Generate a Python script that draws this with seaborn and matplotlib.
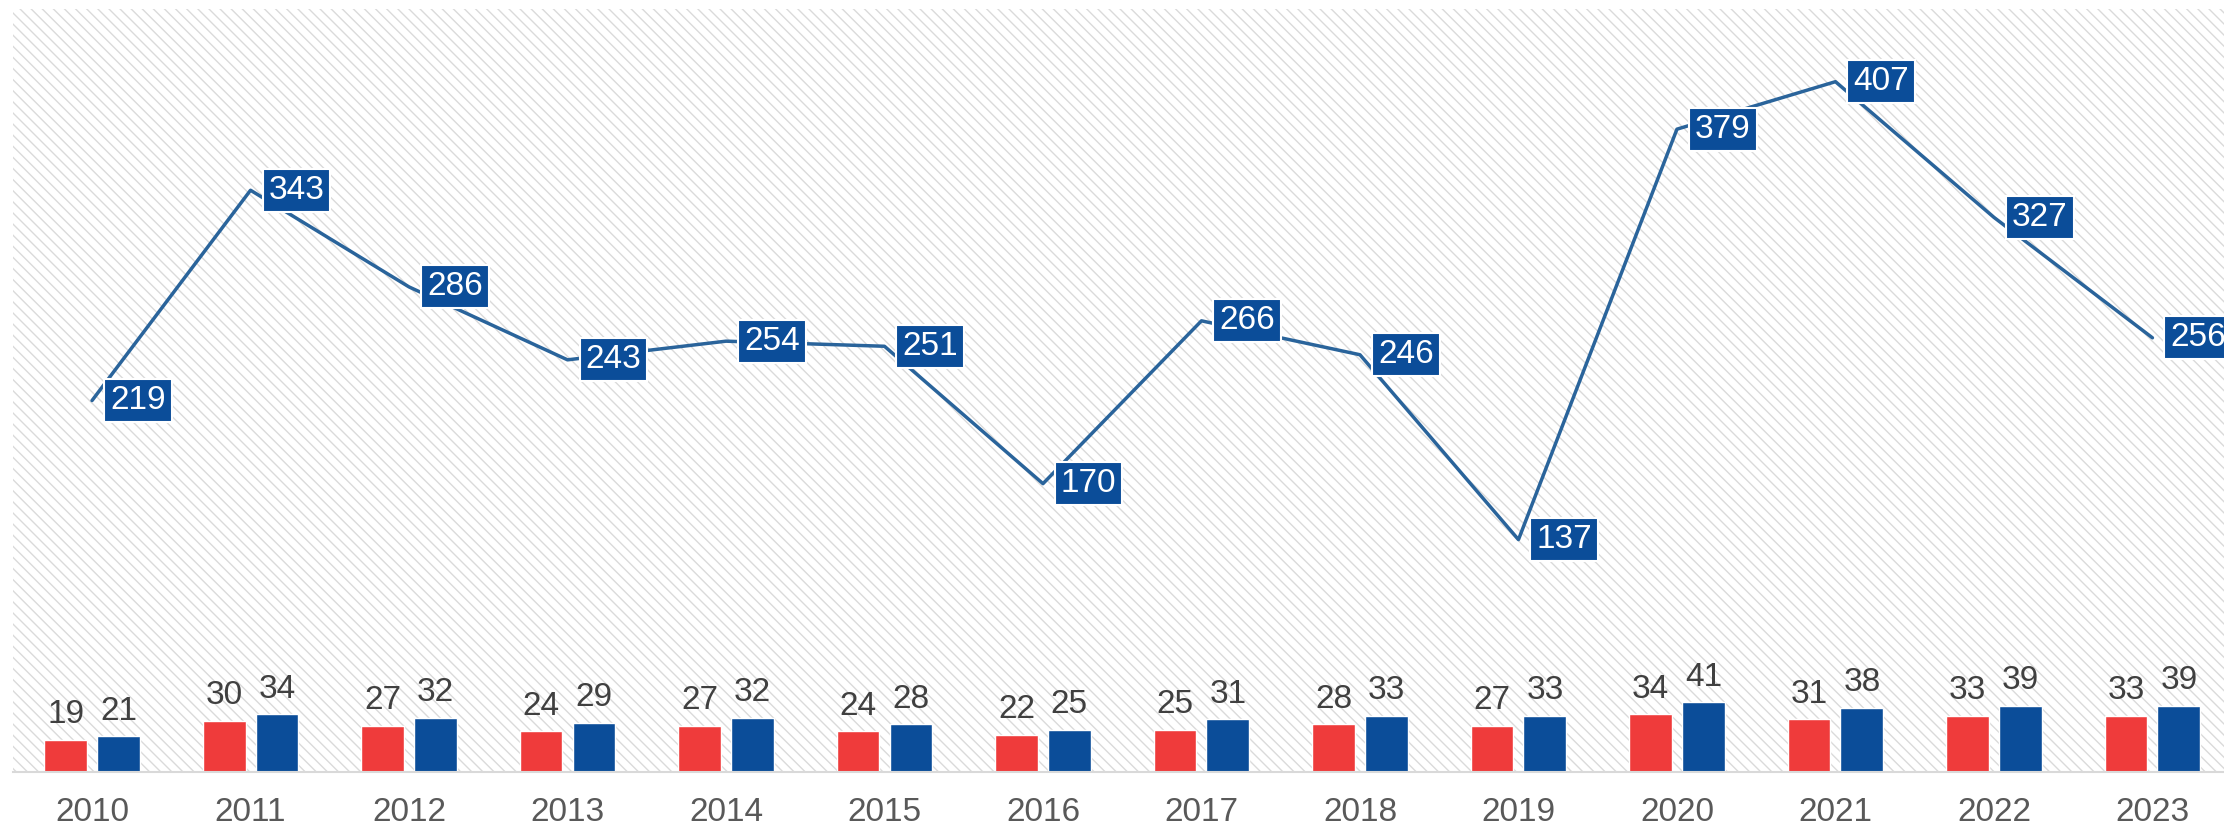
import numpy as np
import pandas as pd
import matplotlib
matplotlib.use("Agg")
import matplotlib.pyplot as plt
import seaborn as sns
from matplotlib.patches import Rectangle

years = [str(y) for y in range(2010, 2024)]
red_vals = [19, 30, 27, 24, 27, 24, 22, 25, 28, 27, 34, 31, 33, 33]
blue_vals = [21, 34, 32, 29, 32, 28, 25, 31, 33, 33, 41, 38, 39, 39]
line_vals = [219, 343, 286, 243, 254, 251, 170, 266, 246, 137, 379, 407, 327, 256]

RED = "#EF3B3B"
BLUE = "#0B4D99"
LINE = "#2A649B"

sns.set_style("white")
plt.rcParams['font.family'] = ['Liberation Sans', 'DejaVu Sans']
plt.rcParams['hatch.linewidth'] = 1.0

df = pd.DataFrame({
    'year': years * 2,
    'value': red_vals + blue_vals,
    'series': ['red'] * len(years) + ['blue'] * len(years),
})

fig = plt.figure(figsize=(22.24, 8.26), dpi=100)
ax = fig.add_axes([0.00575, 0.0654, 0.9977, 0.924])

# hatched background
ax.add_patch(Rectangle((0, 0), 1, 1, transform=ax.transAxes, facecolor='white',
                       edgecolor='#DADADA', hatch='\\\\\\', linewidth=0, zorder=0))

sns.barplot(data=df, x='year', y='value', hue='series', palette=[RED, BLUE],
            saturation=1, width=0.667, gap=0.19, legend=False, ax=ax, zorder=1)

for cont in ax.containers:
    ax.bar_label(cont, padding=7, fontsize=24, color='#404040')

xs = np.arange(len(years))
sns.lineplot(x=xs, y=line_vals, color=LINE, linewidth=2.5, ax=ax, zorder=3)

for x, v in zip(xs, line_vals):
    ax.annotate(str(v), (x, v), xytext=(18, 0), textcoords='offset pixels',
                ha='left', va='center', fontsize=24, color='white', zorder=4,
                bbox=dict(boxstyle='square,pad=0.18', fc=BLUE, ec='white', lw=1.5))

ax.set_xlim(-0.5, len(years) - 0.5)
ax.set_ylim(0, 450)
ax.set_xlabel("")
ax.set_ylabel("")
ax.set_yticks([])
ax.tick_params(axis='x', length=0, pad=18, labelsize=24, labelcolor='#595959')
for s in ['top', 'left', 'right']:
    ax.spines[s].set_visible(False)
ax.spines['bottom'].set_color('#D9D9D9')
ax.spines['bottom'].set_linewidth(1.5)

fig.savefig("out.png", dpi=100)
